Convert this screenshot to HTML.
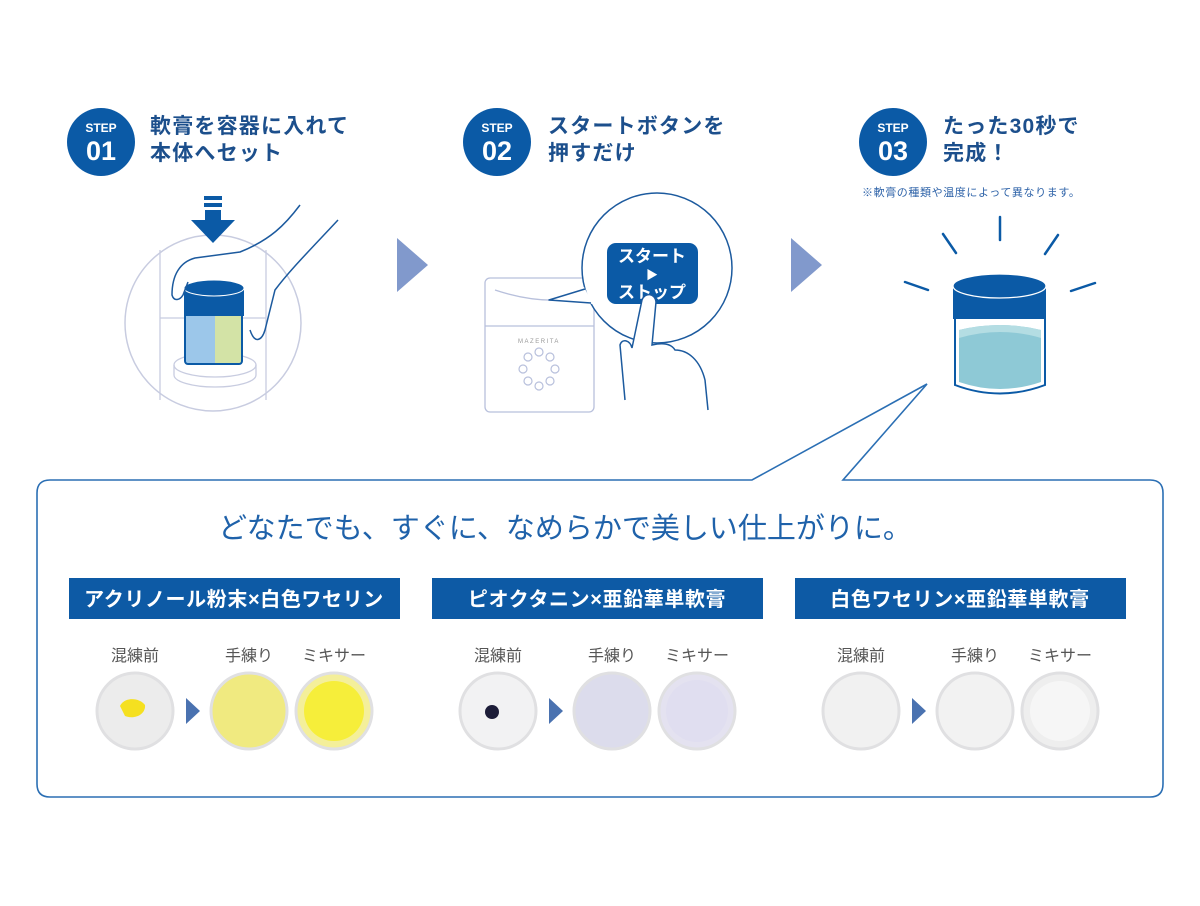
<!DOCTYPE html>
<html><head><meta charset="utf-8"><style>
html,body{margin:0;padding:0;background:#fff;}
body{width:1200px;height:901px;overflow:hidden;font-family:"Liberation Sans","Noto Sans CJK JP",sans-serif;}
svg text{font-family:"Liberation Sans","Noto Sans CJK JP",sans-serif;}
</style></head><body>
<svg width="1200" height="901" viewBox="0 0 1200 901" xmlns="http://www.w3.org/2000/svg">
<!-- Step headers -->
<g fill="#0b5aa6">
<circle cx="101" cy="142" r="34"/><circle cx="497" cy="142" r="34"/><circle cx="893" cy="142" r="34"/>
</g>
<g fill="#fff" font-weight="bold" text-anchor="middle">
<text x="101" y="132" font-size="12">STEP</text><text x="101" y="160" font-size="27">01</text>
<text x="497" y="132" font-size="12">STEP</text><text x="497" y="160" font-size="27">02</text>
<text x="893" y="132" font-size="12">STEP</text><text x="893" y="160" font-size="27">03</text>
</g>
<g fill="#1c4f8c" font-weight="bold" font-size="21" letter-spacing="1.2">
<text x="150" y="133">軟膏を容器に入れて</text><text x="150" y="160">本体へセット</text>
<text x="548" y="133">スタートボタンを</text><text x="548" y="160">押すだけ</text>
<text x="943" y="133">たった30秒で</text><text x="943" y="160">完成！</text>
</g>
<text x="862" y="196" font-size="11" fill="#2d62a8" letter-spacing="0.6">※軟膏の種類や温度によって異なります。</text>
<!-- big arrows -->
<polygon points="397,238 428,265 397,292" fill="#8199cc"/>
<polygon points="791,238 822,265 791,292" fill="#8199cc"/>
<!-- Step1 illustration -->
<circle cx="213" cy="323" r="88" fill="#fff" stroke="#c8cce0" stroke-width="1.5"/>
<g stroke="#c8cce0" stroke-width="1.3" fill="none">
<line x1="160" y1="250" x2="160" y2="400"/><line x1="266" y1="250" x2="266" y2="400"/>
<line x1="160" y1="318" x2="266" y2="318"/>
<ellipse cx="215" cy="365" rx="41" ry="12" fill="#fff"/>
<path d="M174 365 v10 a41 12 0 0 0 82 0 v-10"/>
</g>
<rect x="185" y="305" width="30" height="58" fill="#9cc7ea"/>
<rect x="215" y="305" width="27" height="58" fill="#d3e3a6"/>
<rect x="185" y="300" width="57" height="64" fill="none" stroke="#0b5aa6" stroke-width="2" rx="3"/>
<rect x="184" y="288" width="60" height="28" fill="#0b5aa6"/>
<ellipse cx="214" cy="288" rx="30" ry="8" fill="#0b5aa6" stroke="#fff" stroke-width="1"/>
<path d="M300 205 C285 225 270 240 240 252 L195 258 C180 262 172 275 172 295 C174 302 180 300 183 295 L188 282 M250 330 C255 345 262 340 265 330 L275 290 C290 270 310 250 338 220" fill="none" stroke="#1c5a9e" stroke-width="1.5"/>
<g fill="#0b5aa6"><rect x="204" y="196" width="18" height="4"/><rect x="204" y="203" width="18" height="4"/><rect x="205" y="210" width="16" height="10"/><polygon points="191,220 235,220 213,243"/></g>
<!-- Step2 illustration -->
<g stroke="#b8c0dc" stroke-width="1.3" fill="#fff">
<rect x="485" y="278" width="109" height="134" rx="5"/>
<line x1="485" y1="326" x2="594" y2="326"/>
<path d="M495 290 Q540 305 580 298" fill="none"/>
</g>
<text x="539" y="343" font-size="6" fill="#999" text-anchor="middle" letter-spacing="1.5">MAZERITA</text>
<g stroke="#b8c0dc" stroke-width="1.2" fill="#fff">
<circle cx="539" cy="352" r="4"/><circle cx="550" cy="357" r="4"/><circle cx="555" cy="369" r="4"/><circle cx="550" cy="381" r="4"/><circle cx="539" cy="386" r="4"/><circle cx="528" cy="381" r="4"/><circle cx="523" cy="369" r="4"/><circle cx="528" cy="357" r="4"/>
</g>
<circle cx="657" cy="268" r="75" fill="#fff" stroke="#1c5a9e" stroke-width="1.5"/>
<polygon points="584,287 549,300 593,304" fill="#fff"/>
<path d="M585 289 L549 300 L591 303" fill="none" stroke="#1c5a9e" stroke-width="1.5" stroke-linejoin="round"/>
<rect x="607" y="243" width="91" height="61" rx="9" fill="#0b5aa6"/>
<g fill="#fff" font-weight="bold" text-anchor="middle"><text x="652" y="262" font-size="17">スタート</text><text x="652" y="279" font-size="12">▶</text><text x="652" y="298" font-size="17">ストップ</text></g>
<path d="M625 400 L620 345 C622 338 630 340 632 348 L642 300 C645 292 655 293 656 302 L652 345 C665 342 672 345 675 350 C688 350 700 360 705 380 L708 410" fill="#fff" stroke="#1c5a9e" stroke-width="1.5"/>
<!-- Step3 jar -->
<g stroke="#0b5aa6" stroke-width="2.5" stroke-linecap="round">
<line x1="1000" y1="217" x2="1000" y2="240"/><line x1="943" y1="234" x2="956" y2="253"/><line x1="1058" y1="235" x2="1045" y2="254"/>
<line x1="905" y1="282" x2="928" y2="290"/><line x1="1095" y1="283" x2="1071" y2="291"/>
</g>
<path d="M955 318 V385 Q1000 402 1045 385 V318" fill="#fff" stroke="#0b5aa6" stroke-width="2"/>
<path d="M959 330 V382 Q1000 396 1041 382 V330 Q1000 320 959 330Z" fill="#8ec9d6"/>
<path d="M959 330 Q1000 320 1041 330 V338 Q1000 326 959 338Z" fill="#b4dde3"/>
<rect x="953" y="286" width="93" height="33" fill="#0b5aa6"/>
<ellipse cx="999.5" cy="286" rx="46.5" ry="12" fill="#0b5aa6" stroke="#fff" stroke-width="1.3"/>
<!-- Panel -->
<path d="M50 480 H752 L927 384 L843 480 H1150 Q1163 480 1163 493 V784 Q1163 797 1150 797 H50 Q37 797 37 784 V493 Q37 480 50 480Z" fill="#fff" stroke="#2b6fb4" stroke-width="1.6"/>
<text x="565" y="538" font-size="29" fill="#1f62aa" text-anchor="middle">どなたでも、すぐに、なめらかで美しい仕上がりに。</text>
<g font-weight="bold" font-size="20" fill="#fff" text-anchor="middle" letter-spacing="0.6">
<rect x="69" y="578" width="331" height="41" fill="#0d5aa5"/><text x="234" y="606">アクリノール粉末×白色ワセリン</text>
<rect x="432" y="578" width="331" height="41" fill="#0d5aa5"/><text x="597" y="606">ピオクタニン×亜鉛華単軟膏</text>
<rect x="795" y="578" width="331" height="41" fill="#0d5aa5"/><text x="960" y="606">白色ワセリン×亜鉛華単軟膏</text>
</g>
<g font-size="16" fill="#555" text-anchor="middle">
<text x="135" y="661">混練前</text><text x="249" y="661">手練り</text><text x="334" y="661">ミキサー</text>
<text x="498" y="661">混練前</text><text x="612" y="661">手練り</text><text x="697" y="661">ミキサー</text>
<text x="861" y="661">混練前</text><text x="975" y="661">手練り</text><text x="1060" y="661">ミキサー</text>
</g>
<g fill="#4a72b0">
<polygon points="186,698 200,711 186,724"/><polygon points="549,698 563,711 549,724"/><polygon points="912,698 926,711 912,724"/>
</g>
<!-- dishes -->
<g stroke="#e0e0e2" stroke-width="3">
<circle cx="135" cy="711" r="38" fill="#ececec"/>
<circle cx="249" cy="711" r="38" fill="#f0ea80"/>
<circle cx="334" cy="711" r="38" fill="#f4ef9a"/>
<circle cx="498" cy="711" r="38" fill="#f2f2f3"/>
<circle cx="612" cy="711" r="38" fill="#dcdcec"/>
<circle cx="697" cy="711" r="38" fill="#e4e2f0"/>
<circle cx="861" cy="711" r="38" fill="#f1f1f1"/>
<circle cx="975" cy="711" r="38" fill="#f2f2f2"/>
<circle cx="1060" cy="711" r="38" fill="#eeeeee"/>
</g>
<circle cx="334" cy="711" r="30" fill="#f6ee3a"/>
<circle cx="1060" cy="711" r="30" fill="#f6f6f6"/>
<circle cx="697" cy="711" r="31" fill="#e0def0"/>
<path d="M120 706 C125 696 140 698 145 705 C146 714 135 720 125 716Z" fill="#f5e020"/>
<circle cx="492" cy="712" r="7" fill="#1d1d38"/>
</svg>
</body></html>
